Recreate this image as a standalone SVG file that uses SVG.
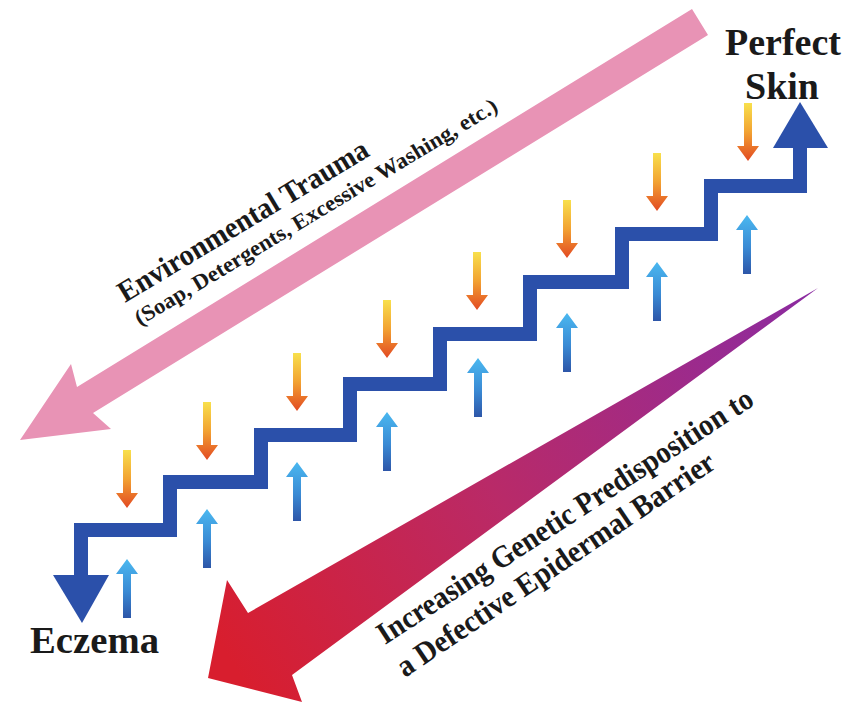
<svg xmlns="http://www.w3.org/2000/svg" xmlns:xlink="http://www.w3.org/1999/xlink" width="848" height="707" viewBox="0 0 848 707">
<defs>
<style>
.lbl{font-family:"Liberation Serif","Times New Roman",serif;font-weight:bold;fill:#1a1a1a}
.stair{fill:none;stroke:#2b50aa;stroke-width:14;stroke-linejoin:miter}
.head{fill:#2b50aa}
</style>
<linearGradient id="gDown" x1="0" y1="0" x2="0" y2="1">
<stop offset="0" stop-color="#f8e04c"/>
<stop offset="0.5" stop-color="#f2a232"/>
<stop offset="1" stop-color="#e24a22"/>
</linearGradient>
<linearGradient id="gUp" x1="0" y1="0" x2="0" y2="1">
<stop offset="0" stop-color="#4ab8f0"/>
<stop offset="0.55" stop-color="#3a8ad4"/>
<stop offset="1" stop-color="#2d56a8"/>
</linearGradient>
<linearGradient id="gGen" gradientUnits="userSpaceOnUse" x1="230" y1="660" x2="818" y2="288">
<stop offset="0" stop-color="#d81e2e"/>
<stop offset="0.45" stop-color="#b92a68"/>
<stop offset="1" stop-color="#8a2ba2"/>
</linearGradient>
<path id="down" d="M-4,0 H4 V43 H11 L0,58 L-11,43 H-4 Z" fill="url(#gDown)"/>
<path id="up" d="M0,0 L11,15 H4 V59 H-4 V15 H-11 Z" fill="url(#gUp)"/>
</defs>
<rect width="848" height="707" fill="#ffffff"/>

<g id="trauma-arrow">
<polygon points="20,440 71,364 77,387 692,9 708,35 93,413 111,429" fill="#e893b5"/>
</g>

<g id="genetic-arrow">
<polygon points="208,678 227,580 248,613 818,288 292,675 302,702" fill="url(#gGen)"/>
</g>

<g id="connectors">
<path class="stair" d="M81,576 V530 H170 V482 H261 V435 H350 V384 H440 V334 H530 V282 H622 V234 H711 V186 H800 V147"/>
<polygon class="head" points="53,575 109,575 82,623"/>
<polygon class="head" points="773,148 828,148 800,102"/>
</g>

<g id="down-arrows">
<use xlink:href="#down" href="#down" x="127" y="450"/>
<use xlink:href="#down" href="#down" x="207" y="402"/>
<use xlink:href="#down" href="#down" x="297" y="353"/>
<use xlink:href="#down" href="#down" x="387" y="300"/>
<use xlink:href="#down" href="#down" x="477" y="252"/>
<use xlink:href="#down" href="#down" x="567" y="200"/>
<use xlink:href="#down" href="#down" x="657" y="153"/>
<use xlink:href="#down" href="#down" x="748" y="103"/>
</g>

<g id="up-arrows">
<use xlink:href="#up" href="#up" x="127" y="559"/>
<use xlink:href="#up" href="#up" x="207" y="509"/>
<use xlink:href="#up" href="#up" x="297" y="462"/>
<use xlink:href="#up" href="#up" x="387" y="412"/>
<use xlink:href="#up" href="#up" x="478" y="358"/>
<use xlink:href="#up" href="#up" x="567" y="313"/>
<use xlink:href="#up" href="#up" x="657" y="262"/>
<use xlink:href="#up" href="#up" x="747" y="215"/>
</g>

<g id="label-perfect-skin">
<text class="lbl" x="783" y="55" font-size="38" text-anchor="middle">Perfect</text>
<text class="lbl" x="782" y="99" font-size="38" text-anchor="middle">Skin</text>
</g>

<g id="label-eczema">
<text class="lbl" x="30" y="653" font-size="38" textLength="129" lengthAdjust="spacingAndGlyphs">Eczema</text>
</g>

<g id="label-trauma">
<text class="lbl" transform="translate(125,303) rotate(-31)" font-size="30" textLength="287" lengthAdjust="spacingAndGlyphs">Environmental Trauma</text>
<text class="lbl" transform="translate(140,326) rotate(-31)" font-size="22" textLength="419" lengthAdjust="spacingAndGlyphs">(Soap, Detergents, Excessive Washing, etc.)</text>
</g>

<g id="label-genetic">
<text class="lbl" transform="translate(385,645) rotate(-33)" font-size="31" textLength="442" lengthAdjust="spacingAndGlyphs">Increasing Genetic Predisposition to</text>
<text class="lbl" transform="translate(405,678) rotate(-34)" font-size="31" textLength="377" lengthAdjust="spacingAndGlyphs">a Defective Epidermal Barrier</text>
</g>
</svg>
